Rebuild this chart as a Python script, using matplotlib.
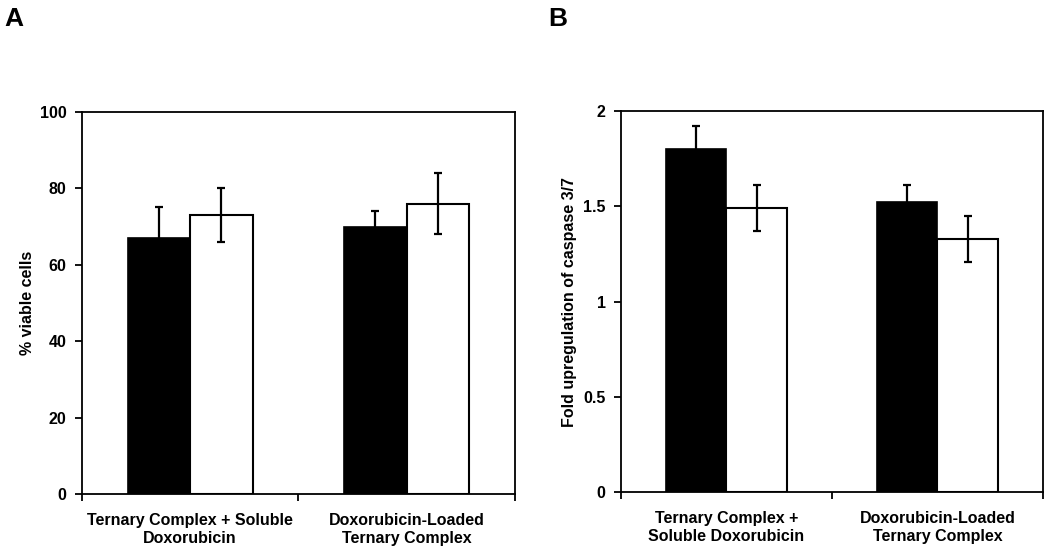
import matplotlib
matplotlib.use("Agg")
import matplotlib.pyplot as plt
import numpy as np

plt.rcParams['font.family'] = ['Liberation Sans', 'DejaVu Sans']
plt.rcParams['font.weight'] = 'bold'

# Panel A data
cats_a = ["Ternary Complex + Soluble\nDoxorubicin", "Doxorubicin-Loaded\nTernary Complex"]
black_a = [67, 70]
black_a_err = [8, 4]
white_a = [73, 76]
white_a_err = [7, 8]
yticks_a = [0, 20, 40, 60, 80, 100]

# Panel B data
cats_b = ["Ternary Complex +\nSoluble Doxorubicin", "Doxorubicin-Loaded\nTernary Complex"]
black_b = [1.80, 1.52]
black_b_err = [0.12, 0.09]
white_b = [1.49, 1.33]
white_b_err = [0.12, 0.12]
yticks_b = [0, 0.5, 1, 1.5, 2]
yticklabels_b = ["0", "0.5", "1", "1.5", "2"]

fig = plt.figure(figsize=(10.5, 5.49), dpi=100)
axA = fig.add_axes([0.078, 0.1002, 0.4124, 0.696])
axB = fig.add_axes([0.5914, 0.1038, 0.4019, 0.694])

bw = 0.288
fs = 11.5


def draw(ax, cats, bl, ble, wh, whe, ylim, yticks, yticklabels, ylabel, labx):
    x = np.arange(len(cats))
    ax.bar(x - bw / 2, bl, bw, color='black', edgecolor='black', linewidth=1.2, zorder=2)
    ax.bar(x + bw / 2, wh, bw, color='white', edgecolor='black', linewidth=1.5, zorder=2)
    ax.errorbar(x - bw / 2, bl, yerr=ble, fmt='none', ecolor='black', elinewidth=1.6,
                capsize=3.2, capthick=1.6, zorder=3)
    ax.errorbar(x + bw / 2, wh, yerr=whe, fmt='none', ecolor='black', elinewidth=1.6,
                capsize=3.2, capthick=1.6, zorder=3)
    ax.set_xlim(-0.5, len(cats) - 0.5)
    ax.set_ylim(*ylim)
    ax.set_yticks(yticks)
    ax.set_yticklabels(yticklabels, fontsize=fs, fontweight='bold')
    ax.set_xticks(x)
    ax.set_xticklabels(cats, fontsize=fs, fontweight='bold', linespacing=1.25)
    ax.tick_params(axis='x', which='major', length=0, pad=14)
    ax.set_xticks(np.arange(len(cats) + 1) - 0.5, minor=True)
    ax.tick_params(axis='x', which='minor', length=5, width=1.3, direction='out')
    ax.tick_params(axis='y', length=5, width=1.3, direction='out', pad=6)
    for s in ax.spines.values():
        s.set_linewidth(1.3)
    ax.set_ylabel(ylabel, fontsize=fs, fontweight='bold', va='center')
    ax.yaxis.set_label_coords(labx, 0.5)


draw(axA, cats_a, black_a, black_a_err, white_a, white_a_err, (0, 100), yticks_a,
     [str(v) for v in yticks_a], "% viable cells", -0.125)
draw(axB, cats_b, black_b, black_b_err, white_b, white_b_err, (0, 2), yticks_b,
     yticklabels_b, "Fold upregulation of caspase 3/7", -0.121)

fig.text(0.004, 0.965, "A", fontsize=19, fontweight='bold', ha='left', va='center')
fig.text(0.522, 0.965, "B", fontsize=19, fontweight='bold', ha='left', va='center')

fig.savefig("out.png", dpi=100)
